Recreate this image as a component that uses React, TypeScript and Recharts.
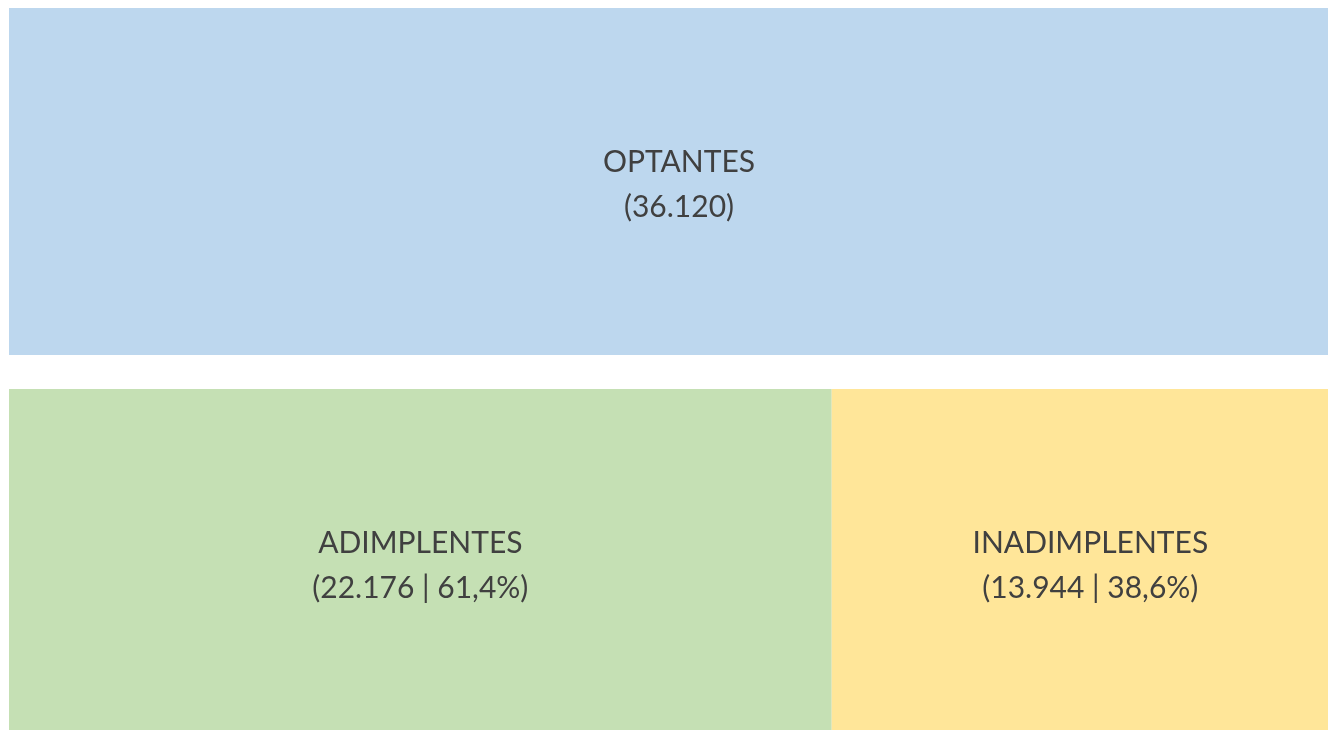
import { BarChart, Bar, XAxis, YAxis, LabelList } from "recharts";

const rows = ["OPTANTES", "SITUAÇÃO"];
const optantes = [36120, null];
const adimplentes = [null, 22176];
const inadimplentes = [null, 13944];

const TOTAL = 36120;

const COLORS = {
  optantes: "#BDD7EE",
  adimplentes: "#C5E0B4",
  inadimplentes: "#FFE699",
};

const data = rows.map((row, i) => ({
  row,
  optantes: optantes[i],
  adimplentes: adimplentes[i],
  inadimplentes: inadimplentes[i],
}));

const fmt = (v: number) => v.toLocaleString("pt-BR");
const pct = (v: number) =>
  (v / TOTAL * 100).toLocaleString("pt-BR", { minimumFractionDigits: 1, maximumFractionDigits: 1 }) + "%";

// two-line label; value comes from LabelList dataKey (own value, not stacked top)
function makeLabel(title: string, withPct: boolean) {
  return (props: any) => {
    const { x, y, width, height } = props;
    let v = props.value;
    if (Array.isArray(v)) v = v[1] - v[0];
    if (v == null || typeof v !== "number" || !isFinite(width) || width <= 0) return null;
    const cx = x + width / 2;
    const cy = y + height / 2;
    const second = withPct ? `(${fmt(v)} | ${pct(v)})` : `(${fmt(v)})`;
    return (
      <text
        x={cx}
        y={cy}
        textAnchor="middle"
        fill="#404040"
        fontFamily="Lato, 'Open Sans', sans-serif"
        fontSize={30}
      >
        <tspan x={cx} dy={-10}>{title}</tspan>
        <tspan x={cx} dy={45}>{second}</tspan>
      </text>
    );
  };
}

export default function App() {
  // chart runs a little past the right edge of the window, like the original slide
  return (
    <div style={{ position: "fixed", top: -9, left: 8 }}>
      <BarChart
        width={1341}
        height={762}
        data={data}
        layout="vertical"
        margin={{ top: 0, right: 0, bottom: 0, left: 1 }}
      >
        <XAxis type="number" hide domain={[0, TOTAL]} />
        <YAxis type="category" dataKey="row" hide />
        <Bar dataKey="optantes" stackId="a" fill={COLORS.optantes} barSize={347} isAnimationActive={false}>
          <LabelList dataKey="optantes" content={makeLabel("OPTANTES", false)} />
        </Bar>
        <Bar dataKey="adimplentes" stackId="a" fill={COLORS.adimplentes} barSize={347} isAnimationActive={false}>
          <LabelList dataKey="adimplentes" content={makeLabel("ADIMPLENTES", true)} />
        </Bar>
        <Bar dataKey="inadimplentes" stackId="a" fill={COLORS.inadimplentes} barSize={347} isAnimationActive={false}>
          <LabelList dataKey="inadimplentes" content={makeLabel("INADIMPLENTES", true)} />
        </Bar>
      </BarChart>
    </div>
  );
}
